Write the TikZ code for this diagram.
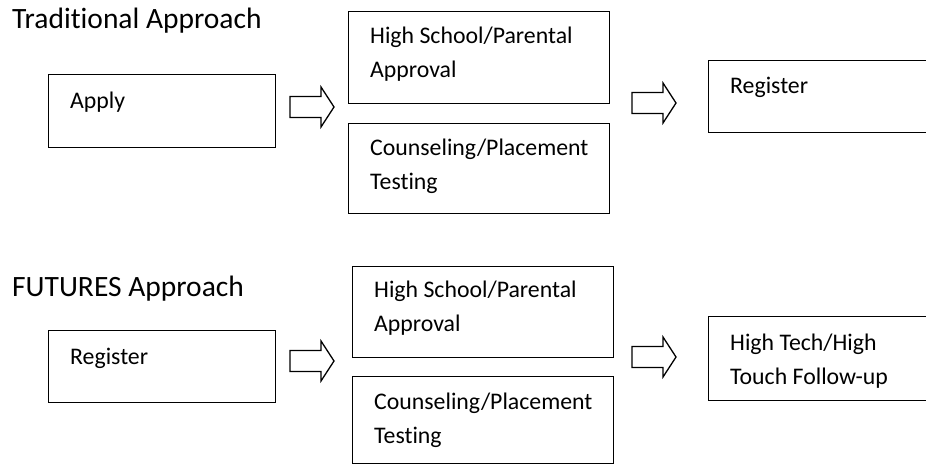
\documentclass[tikz,border=0pt]{standalone}
\usepackage{fontspec}
\setmainfont{Carlito}[Ligatures=NoCommon]
\usepackage{tikz}

\tikzset{
  box/.style={draw, line width=1.3pt, rectangle, anchor=north west, inner sep=0pt},
  lbl/.style={anchor=base west, inner sep=0pt, align=left, font=\fontsize{23.8}{34}\selectfont},
  ttl/.style={anchor=base west, inner sep=0pt, font=\fontsize{29.5}{34}\selectfont},
  blockarrow/.pic={\draw[line width=1.3pt, line join=miter]
    (0,-10.5) -- (31,-10.5) -- (31,-20) -- (44,0) -- (31,20) -- (31,10.5) -- (0,10.5) -- cycle;}
}

\begin{document}
\begin{tikzpicture}[x=1pt,y=-1pt]
\clip (0,0) rectangle (926,466);

% Traditional approach
\node[ttl] (tTitle) at (12,28) {Traditional Approach};
\node[box, minimum width=227pt, minimum height=73pt] (tApply) at (48,74) {};
\node[box, minimum width=261pt, minimum height=92pt] (tApproval) at (348,11) {};
\node[box, minimum width=261pt, minimum height=90pt] (tTesting) at (348,123) {};
\node[box, minimum width=240pt, minimum height=72pt] (tRegister) at (708,60) {};
% base of a two-line label is its last line
\node[lbl] (tApplyTxt) at ([shift={(22,34)}]tApply.north west) {Apply};
\node[lbl] (tApprovalTxt) at ([shift={(22,66)}]tApproval.north west) {High School/Parental\\Approval};
\node[lbl] (tTestingTxt) at ([shift={(22,66)}]tTesting.north west) {Counseling/Placement\\Testing};
\node[lbl] (tRegisterTxt) at ([shift={(22,33)}]tRegister.north west) {Register};
\pic at (290,107) {blockarrow};
\pic at (632,103) {blockarrow};

% FUTURES approach
\node[ttl] (fTitle) at (12,296) {FUTURES Approach};
\node[box, minimum width=227pt, minimum height=72pt] (fRegister) at (48,330) {};
\node[box, minimum width=261pt, minimum height=91pt] (fApproval) at (352,266) {};
\node[box, minimum width=261pt, minimum height=87pt] (fTesting) at (352,376) {};
\node[box, minimum width=240pt, minimum height=84pt] (fFollow) at (708,316) {};
\node[lbl] (fRegisterTxt) at ([shift={(22,34)}]fRegister.north west) {Register};
\node[lbl] (fApprovalTxt) at ([shift={(22,65)}]fApproval.north west) {High School/Parental\\Approval};
\node[lbl] (fTestingTxt) at ([shift={(22,67)}]fTesting.north west) {Counseling/Placement\\Testing};
\node[lbl] (fFollowTxt) at ([shift={(22,68)}]fFollow.north west) {High Tech/High\\Touch Follow-up};
\pic at (290,361) {blockarrow};
\pic at (632,357) {blockarrow};

\end{tikzpicture}
\end{document}
